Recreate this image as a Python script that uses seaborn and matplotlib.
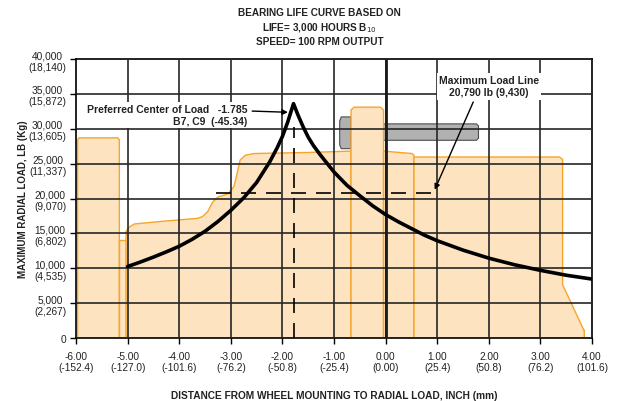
import matplotlib
matplotlib.use('Agg')
import matplotlib.pyplot as plt
import seaborn as sns
import pandas as pd

# bearing life curve (inch, lb)
curve_x = [-5.0, -4.75, -4.5, -4.25, -4.0, -3.75, -3.5, -3.25, -3.0, -2.75, -2.5, -2.25,
           -2.1, -2.0, -1.9, -1.785,
           -1.7, -1.6, -1.5, -1.4, -1.26, -1.0, -0.75, -0.5, -0.25, 0.0, 0.25, 0.5, 0.75,
           1.0, 1.5, 2.0, 2.5, 3.0, 3.5, 4.0]
curve_load = [10250, 10900, 11600, 12350, 13150, 14150, 15300, 16700, 18300, 20100, 22300, 25200,
              27300, 28900, 30900, 33600,
              32000, 30300, 28800, 27600, 26200, 23800, 21900, 20400, 18950, 17700, 16650, 15700, 14750,
              13950, 12600, 11450, 10500, 9700, 9000, 8450]

max_load = 20790
max_load_x = [-3.28, 0.93]
center_x = -1.785
center_top = 30300

# housing outline pieces (inch, lb)
left_block_x = [-5.97, -5.97, -5.94, -5.19, -5.16, -5.16]
left_block_y = [0, 28400, 28700, 28700, 28400, 0]
step_x = [-5.16, -5.16, -5.03, -5.03]
step_y = [0, 14100, 14100, 0]
body_x = [-5.03, -5.03, -4.97, -4.87, -4.3, -3.65, -3.55, -3.45, -3.35, -3.25, -3.05,
          -2.94, -2.88, -2.82, -2.72, -2.55, -1.5, -0.67, -0.67]
body_y = [0, 15300, 15900, 16350, 16750, 17150, 17400, 18100, 19500, 20200, 20700,
          21700, 23500, 25500, 26200, 26450, 26600, 26800, 0]
tall_x = [-0.67, -0.67, -0.61, -0.10, -0.04, -0.04]
tall_y = [0, 32700, 33100, 33100, 32700, 0]
mid_x = [-0.04, -0.04, 0.51, 0.55, 0.55]
mid_y = [0, 26800, 26450, 26200, 0]
right_x = [0.55, 0.55, 3.37, 3.43, 3.43, 3.84, 3.85, 3.85]
right_y = [0, 25950, 25950, 25600, 7650, 1150, 1150, 0]
bar_x = [-0.67, -0.67, 1.76, 1.80, 1.80, 1.76]
bar_y = [28350, 30700, 30700, 30400, 28650, 28350]
knob_x = [-0.67, -0.86, -0.89, -0.89, -0.86, -0.67]
knob_y = [31700, 31700, 31100, 27700, 27150, 27150]

x_ticks = [-6, -5, -4, -3, -2, -1, 0, 1, 2, 3, 4]
x_labels = ['-6.00\n(-152.4)', '-5.00\n(-127.0)', '-4.00\n(-101.6)', '-3.00\n(-76.2)',
            '-2.00\n(-50.8)', '-1.00\n(-25.4)', '0.00\n(0.00)', '1.00\n(25.4)',
            '2.00\n(50.8)', '3.00\n(76.2)', '4.00\n(101.6)']
y_ticks = [0, 5000, 10000, 15000, 20000, 25000, 30000, 35000, 40000]
y_labels = ['0', '5,000\n(2,267)', '10,000\n(4,535)', '15,000\n(6,802)', '20,000\n(9,070)',
            '25,000\n(11,337)', '30,000\n(13,605)', '35,000\n(15,872)', '40,000\n(18,140)']

sns.set_theme(style='white')
plt.rcParams['font.family'] = ['Liberation Sans', 'DejaVu Sans']

fig = plt.figure(figsize=(6.17, 4.02), dpi=100)
ax = fig.add_axes([0.1232, 0.1567, 0.8363, 0.694])

fill_c = '#fde3bf'
edge_c = '#f6a52b'
ax.fill(bar_x, bar_y, facecolor='#b1b1b1', edgecolor='#4d4d4d', lw=0.8, zorder=1)
ax.fill(knob_x, knob_y, facecolor='#b1b1b1', edgecolor='#4d4d4d', lw=0.8, zorder=1)
for px, py in [(left_block_x, left_block_y), (step_x, step_y), (body_x, body_y),
               (tall_x, tall_y), (mid_x, mid_y), (right_x, right_y)]:
    ax.fill(px, py, facecolor=fill_c, edgecolor=edge_c, lw=1.0, zorder=1.5)

ax.set_xlim(-6, 4)
ax.set_ylim(0, 40000)
ax.set_xticks(x_ticks, x_labels)
ax.set_yticks(y_ticks, y_labels)
for lab in ax.get_yticklabels() + ax.get_xticklabels():
    lab.set_multialignment('center')
ax.grid(True, color='#262626', lw=1.2)
ax.set_axisbelow(False)
ax.axvline(0, color='#1a1a1a', lw=2.0, zorder=2.6)

ax.plot(max_load_x, [max_load, max_load], color='black', lw=1.2, dashes=(9, 6), zorder=3)
ax.plot([center_x, center_x], [0, center_top], color='black', lw=1.2, dashes=(9, 6), zorder=3)

df = pd.DataFrame({'x': curve_x, 'load': curve_load})
sns.lineplot(data=df, x='x', y='load', ax=ax, color='black', lw=2.6, estimator=None,
             sort=False, zorder=4)

ax.tick_params(axis='both', direction='out', length=4, width=1, color='black',
               left=True, bottom=True, labelsize=7.3, labelcolor='#222222', pad=3)
ax.tick_params(axis='x', pad=5)
for s in ax.spines.values():
    s.set_color('black')
    s.set_linewidth(1.2)

box = dict(facecolor='white', edgecolor='none', pad=1.5)
ax.text(-2.68, 32000, 'Preferred Center of Load   -1.785\nB7, C9  (-45.34)', ha='right',
        va='center', multialignment='right', fontsize=7.5, fontweight='bold',
        color='#222222', bbox=box, zorder=5, linespacing=1.3)
ax.annotate('', xy=(-1.84, 32350), xytext=(-2.64, 32550),
            arrowprops=dict(arrowstyle='-|>', color='black', lw=1.0, mutation_scale=8), zorder=5)
ax.text(2.0, 36100, 'Maximum Load Line\n20,790 lb (9,430)', ha='center', va='center',
        fontsize=7.5, fontweight='bold', color='#222222', bbox=box, zorder=5, linespacing=1.3)
ax.annotate('', xy=(0.93, 20900), xytext=(1.72, 34200),
            arrowprops=dict(arrowstyle='-|>', color='black', lw=1.0, mutation_scale=8), zorder=5)

ax.set_xlabel('DISTANCE FROM WHEEL MOUNTING TO RADIAL LOAD, INCH (mm)', fontsize=7.3,
              fontweight='bold', color='#222222', labelpad=13)
ax.set_ylabel('MAXIMUM RADIAL LOAD, LB (Kg)', fontsize=7.0, fontweight='bold',
              color='#222222')
ax.yaxis.set_label_coords(-0.094, 0.5)
fig.text(0.518, 0.931, 'BEARING LIFE CURVE BASED ON\nLIFE= 3,000 HOURS B$_{10}$\nSPEED= 100 RPM OUTPUT',
         ha='center', va='center', fontsize=7.2, fontweight='bold', color='#222222',
         linespacing=1.3)

fig.savefig('out.png', dpi=100)
